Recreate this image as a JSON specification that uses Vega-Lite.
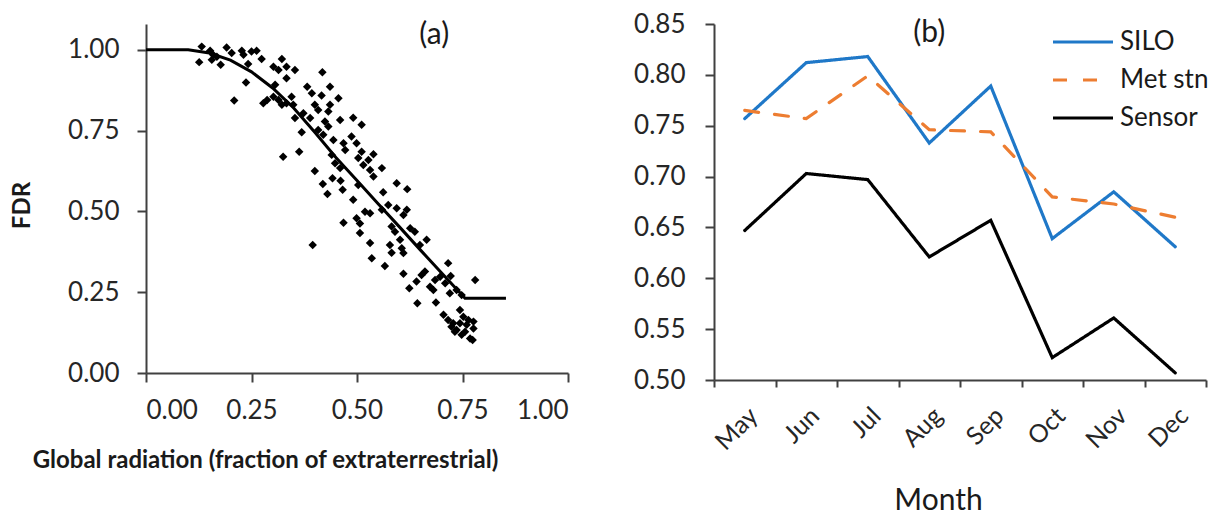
{
  "$schema": "https://vega.github.io/schema/vega-lite/v6.json",
  "padding": {"left": 10, "top": 11, "right": 5, "bottom": 5},
  "background": "white",
  "bounds": "flush",
  "spacing": 146,
  "config": {
    "font": "Lato",
    "view": {"stroke": null},
    "axis": {"grid": false, "domainColor": "#404040", "domainWidth": 2, "tickColor": "#404040", "tickWidth": 2, "labelColor": "#262626", "labelFont": "Lato", "titleFont": "Lato", "titleColor": "#1a1a1a"},
    "text": {"font": "Lato"}
  },
  "datasets": {
    "scatter": [
      {"radiation":0.132,"fdr":1.010},{"radiation":0.126,"fdr":0.962},{"radiation":0.152,"fdr":0.997},{"radiation":0.159,"fdr":0.985},
      {"radiation":0.168,"fdr":0.979},{"radiation":0.156,"fdr":0.969},{"radiation":0.177,"fdr":0.954},{"radiation":0.191,"fdr":1.007},
      {"radiation":0.203,"fdr":0.990},{"radiation":0.227,"fdr":0.997},{"radiation":0.231,"fdr":0.985},{"radiation":0.250,"fdr":0.995},
      {"radiation":0.262,"fdr":0.997},{"radiation":0.274,"fdr":0.972},{"radiation":0.242,"fdr":0.956},{"radiation":0.237,"fdr":0.899},
      {"radiation":0.209,"fdr":0.843},{"radiation":0.322,"fdr":0.972},{"radiation":0.302,"fdr":0.948},{"radiation":0.314,"fdr":0.938},
      {"radiation":0.333,"fdr":0.948},{"radiation":0.333,"fdr":0.912},{"radiation":0.306,"fdr":0.892},{"radiation":0.278,"fdr":0.835},
      {"radiation":0.287,"fdr":0.845},{"radiation":0.302,"fdr":0.855},{"radiation":0.314,"fdr":0.845},{"radiation":0.322,"fdr":0.830},
      {"radiation":0.333,"fdr":0.835},{"radiation":0.325,"fdr":0.669},
      {"radiation":0.353,"fdr":0.938},{"radiation":0.418,"fdr":0.931},{"radiation":0.382,"fdr":0.886},{"radiation":0.393,"fdr":0.866},
      {"radiation":0.436,"fdr":0.886},{"radiation":0.416,"fdr":0.859},{"radiation":0.456,"fdr":0.850},{"radiation":0.345,"fdr":0.855},
      {"radiation":0.349,"fdr":0.830},{"radiation":0.400,"fdr":0.830},{"radiation":0.408,"fdr":0.814},{"radiation":0.436,"fdr":0.830},
      {"radiation":0.432,"fdr":0.809},{"radiation":0.353,"fdr":0.789},{"radiation":0.373,"fdr":0.804},{"radiation":0.389,"fdr":0.789},
      {"radiation":0.460,"fdr":0.783},{"radiation":0.491,"fdr":0.790},{"radiation":0.511,"fdr":0.768},{"radiation":0.424,"fdr":0.778},
      {"radiation":0.432,"fdr":0.763},{"radiation":0.369,"fdr":0.745},{"radiation":0.408,"fdr":0.752},{"radiation":0.420,"fdr":0.737},
      {"radiation":0.444,"fdr":0.721},{"radiation":0.487,"fdr":0.732},{"radiation":0.468,"fdr":0.711},{"radiation":0.499,"fdr":0.711},
      {"radiation":0.472,"fdr":0.690},{"radiation":0.511,"fdr":0.685},{"radiation":0.539,"fdr":0.677},{"radiation":0.363,"fdr":0.685},
      {"radiation":0.440,"fdr":0.675},{"radiation":0.503,"fdr":0.665},{"radiation":0.400,"fdr":0.625},
      {"radiation":0.448,"fdr":0.649},{"radiation":0.460,"fdr":0.634},{"radiation":0.419,"fdr":0.585},{"radiation":0.442,"fdr":0.603},
      {"radiation":0.461,"fdr":0.595},{"radiation":0.430,"fdr":0.554},{"radiation":0.466,"fdr":0.567},{"radiation":0.491,"fdr":0.536},
      {"radiation":0.515,"fdr":0.644},{"radiation":0.531,"fdr":0.628},{"radiation":0.539,"fdr":0.608},{"radiation":0.559,"fdr":0.634},
      {"radiation":0.527,"fdr":0.659},{"radiation":0.503,"fdr":0.582},{"radiation":0.594,"fdr":0.587},{"radiation":0.619,"fdr":0.569},
      {"radiation":0.562,"fdr":0.559},{"radiation":0.519,"fdr":0.499},{"radiation":0.531,"fdr":0.494},{"radiation":0.499,"fdr":0.479},
      {"radiation":0.507,"fdr":0.463},{"radiation":0.468,"fdr":0.465},{"radiation":0.559,"fdr":0.505},{"radiation":0.574,"fdr":0.520},
      {"radiation":0.594,"fdr":0.510},{"radiation":0.618,"fdr":0.505},{"radiation":0.610,"fdr":0.489},{"radiation":0.582,"fdr":0.453},
      {"radiation":0.590,"fdr":0.437},{"radiation":0.626,"fdr":0.448},{"radiation":0.637,"fdr":0.437},{"radiation":0.507,"fdr":0.433},
      {"radiation":0.531,"fdr":0.402},{"radiation":0.578,"fdr":0.396},{"radiation":0.602,"fdr":0.412},{"radiation":0.606,"fdr":0.386},
      {"radiation":0.665,"fdr":0.412},{"radiation":0.649,"fdr":0.396},{"radiation":0.535,"fdr":0.355},{"radiation":0.395,"fdr":0.396},
      {"radiation":0.566,"fdr":0.331},{"radiation":0.582,"fdr":0.372},{"radiation":0.610,"fdr":0.371},{"radiation":0.610,"fdr":0.307},
      {"radiation":0.624,"fdr":0.262},{"radiation":0.641,"fdr":0.283},{"radiation":0.653,"fdr":0.303},{"radiation":0.661,"fdr":0.314},
      {"radiation":0.673,"fdr":0.267},{"radiation":0.681,"fdr":0.257},{"radiation":0.685,"fdr":0.288},{"radiation":0.697,"fdr":0.298},
      {"radiation":0.709,"fdr":0.278},{"radiation":0.716,"fdr":0.340},{"radiation":0.722,"fdr":0.300},{"radiation":0.720,"fdr":0.247},
      {"radiation":0.736,"fdr":0.257},{"radiation":0.748,"fdr":0.241},{"radiation":0.780,"fdr":0.288},{"radiation":0.643,"fdr":0.216},
      {"radiation":0.687,"fdr":0.218},{"radiation":0.705,"fdr":0.180},{"radiation":0.716,"fdr":0.164},{"radiation":0.724,"fdr":0.143},
      {"radiation":0.732,"fdr":0.128},{"radiation":0.744,"fdr":0.195},{"radiation":0.752,"fdr":0.174},{"radiation":0.744,"fdr":0.154},
      {"radiation":0.760,"fdr":0.149},{"radiation":0.764,"fdr":0.164},{"radiation":0.776,"fdr":0.159},{"radiation":0.776,"fdr":0.138},
      {"radiation":0.756,"fdr":0.128},{"radiation":0.768,"fdr":0.107},{"radiation":0.774,"fdr":0.102},{"radiation":0.748,"fdr":0.118},
      {"radiation":0.736,"fdr":0.133},{"radiation":0.728,"fdr":0.154}
    ],
    "curve": [
      {"radiation":0.0,"fdr":1.0},{"radiation":0.1,"fdr":1.0},{"radiation":0.15,"fdr":0.99},{"radiation":0.2,"fdr":0.968},
      {"radiation":0.25,"fdr":0.932},{"radiation":0.3,"fdr":0.882},{"radiation":0.35,"fdr":0.82},{"radiation":0.4,"fdr":0.745},
      {"radiation":0.45,"fdr":0.667},{"radiation":0.5,"fdr":0.596},{"radiation":0.55,"fdr":0.524},{"radiation":0.6,"fdr":0.453},
      {"radiation":0.65,"fdr":0.381},{"radiation":0.7,"fdr":0.31},{"radiation":0.756,"fdr":0.231},{"radiation":0.853,"fdr":0.231}
    ],
    "months": [
      {"month":"May","source":"SILO","value":0.757},{"month":"Jun","source":"SILO","value":0.812},{"month":"Jul","source":"SILO","value":0.818},
      {"month":"Aug","source":"SILO","value":0.733},{"month":"Sep","source":"SILO","value":0.789},{"month":"Oct","source":"SILO","value":0.639},
      {"month":"Nov","source":"SILO","value":0.685},{"month":"Dec","source":"SILO","value":0.631},
      {"month":"May","source":"Met stn","value":0.765},{"month":"Jun","source":"Met stn","value":0.757},{"month":"Jul","source":"Met stn","value":0.799},
      {"month":"Aug","source":"Met stn","value":0.746},{"month":"Sep","source":"Met stn","value":0.744},{"month":"Oct","source":"Met stn","value":0.680},
      {"month":"Nov","source":"Met stn","value":0.673},{"month":"Dec","source":"Met stn","value":0.660},
      {"month":"May","source":"Sensor","value":0.647},{"month":"Jun","source":"Sensor","value":0.703},{"month":"Jul","source":"Sensor","value":0.697},
      {"month":"Aug","source":"Sensor","value":0.621},{"month":"Sep","source":"Sensor","value":0.657},{"month":"Oct","source":"Sensor","value":0.522},
      {"month":"Nov","source":"Sensor","value":0.561},{"month":"Dec","source":"Sensor","value":0.507}
    ]
  },
  "hconcat": [
    {
      "width": 422,
      "height": 349,
      "layer": [
        {
          "data": {"name": "scatter"},
          "mark": {"type": "point", "shape": "diamond", "filled": true, "size": 72, "color": "#000000", "opacity": 1},
          "encoding": {
            "x": {"field": "radiation", "type": "quantitative", "scale": {"domain": [0, 1], "nice": false},
              "axis": {"values": [0, 0.25, 0.5, 0.75, 1], "format": ".2f", "tickSize": 9, "labelPadding": 15, "labelFontSize": 26,
                "title": "Global radiation (fraction of extraterrestrial)", "titleFontSize": 24, "titleFontWeight": "bold",
                "titleX": 119, "titleY": 87, "titleAlign": "center", "titleBaseline": "middle"}},
            "y": {"field": "fdr", "type": "quantitative", "scale": {"domain": [0, 1.08], "nice": false},
              "axis": {"values": [0, 0.25, 0.5, 0.75, 1], "format": ".2f", "tickSize": 9, "labelPadding": 18, "labelFontSize": 26,
                "title": "FDR", "titleFontSize": 24, "titleFontWeight": "bold", "titleAngle": -90,
                "titleX": -124, "titleY": 181, "titleAlign": "center", "titleBaseline": "middle"}}
          }
        },
        {
          "data": {"name": "curve"},
          "mark": {"type": "line", "color": "#000000", "strokeWidth": 3},
          "encoding": {
            "x": {"field": "radiation", "type": "quantitative"},
            "y": {"field": "fdr", "type": "quantitative"}
          }
        },
        {
          "data": {"values": [{"label": "(a)"}]},
          "mark": {"type": "text", "fontSize": 30, "color": "#1a1a1a", "align": "center", "baseline": "middle"},
          "encoding": {
            "x": {"datum": 0.683},
            "y": {"datum": 1.046},
            "text": {"field": "label"}
          }
        }
      ]
    },
    {
      "width": 492,
      "height": 356,
      "layer": [
        {
          "data": {"name": "months"},
          "mark": {"type": "line", "strokeWidth": 3.2, "strokeCap": "round"},
          "encoding": {
            "x": {"field": "month", "type": "ordinal", "sort": ["May", "Jun", "Jul", "Aug", "Sep", "Oct", "Nov", "Dec"],
              "scale": {"type": "band", "paddingInner": 0, "paddingOuter": 0},
              "axis": {"labelAngle": -45, "tickBand": "extent", "tickSize": 7, "labelPadding": 16, "labelFontSize": 25,
                "title": "Month", "titleFontSize": 30, "titleFontWeight": "normal", "titleX": 224, "titleY": 120,
                "titleAlign": "center", "titleBaseline": "middle"}},
            "y": {"field": "value", "type": "quantitative", "scale": {"domain": [0.5, 0.85], "nice": false, "zero": false},
              "axis": {"values": [0.5, 0.55, 0.6, 0.65, 0.7, 0.75, 0.8, 0.85], "format": ".2f", "tickSize": 9, "labelPadding": 20,
                "labelFontSize": 26, "title": null}},
            "color": {"field": "source", "type": "nominal",
              "scale": {"domain": ["SILO", "Met stn", "Sensor"], "range": ["#1F78C8", "#ED7D31", "#000000"]},
              "legend": {"title": null, "orient": "none", "legendX": 924, "legendY": 5, "padding": 0,
                "symbolType": "M -3 0 L 3 0", "symbolSize": 400, "symbolStrokeWidth": 3.2, "labelFontSize": 26,
                "labelFont": "Lato", "labelColor": "#1a1a1a", "labelOffset": 24, "rowPadding": 12}},
            "strokeDash": {"field": "source", "type": "nominal",
              "scale": {"domain": ["SILO", "Met stn", "Sensor"], "range": [[1, 0], [14, 16], [1, 0]]},
              "legend": {"title": null, "orient": "none", "legendX": 924, "legendY": 5, "padding": 0,
                "symbolType": "M -3 0 L 3 0", "symbolSize": 400, "symbolStrokeWidth": 3.2, "labelFontSize": 26,
                "labelFont": "Lato", "labelColor": "#1a1a1a", "labelOffset": 24, "rowPadding": 12}}
          }
        },
        {
          "data": {"values": [{"label": "(b)"}]},
          "mark": {"type": "text", "fontSize": 30, "color": "#1a1a1a", "align": "center", "baseline": "middle"},
          "encoding": {
            "x": {"datum": "Aug"},
            "y": {"datum": 0.841},
            "text": {"field": "label"}
          }
        }
      ]
    }
  ]
}
